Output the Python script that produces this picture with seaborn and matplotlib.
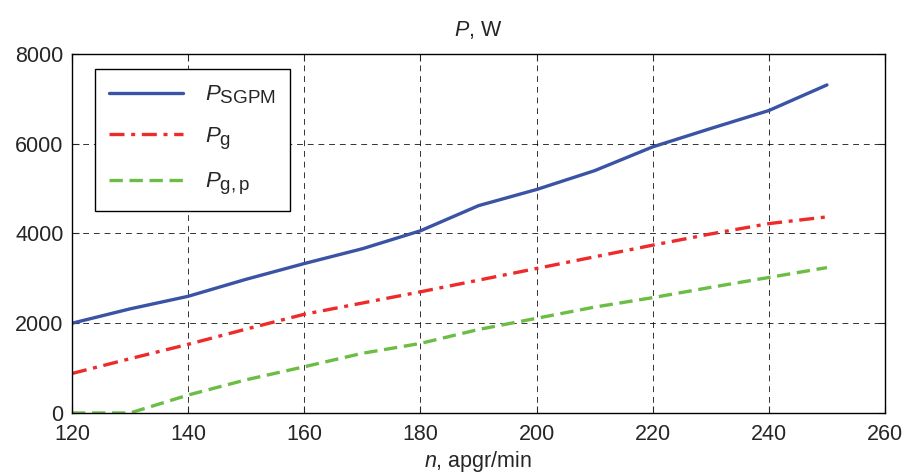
import matplotlib
matplotlib.use("Agg")
import matplotlib.pyplot as plt
import matplotlib._mathtext as _mt
import seaborn as sns
import pandas as pd

n_vals = [120, 130, 140, 150, 160, 170, 180, 190, 200, 210, 220, 230, 240, 250]
p_sgpm = [2000, 2320, 2600, 2980, 3330, 3660, 4060, 4620, 4980, 5400, 5930, 6340, 6740, 7310]
p_g    = [880, 1210, 1530, 1870, 2200, 2450, 2700, 2960, 3220, 3480, 3740, 3990, 4220, 4370]
p_gp   = [0, 0, 400, 740, 1030, 1330, 1550, 1860, 2110, 2360, 2570, 2800, 3020, 3240]
labels = [r"$P_{\mathrm{SGPM}}$", r"$P_{\mathrm{g}}$", r"$P_{\mathrm{g,p}}$"]
colors = ["#3a53a4", "#ee2a2a", "#6cbd45"]

# larger subscripts, as in the reference
_mt.SHRINK_FACTOR = 0.85

sns.set_style("ticks")
plt.rcParams["font.family"] = ["Liberation Sans", "DejaVu Sans"]
plt.rcParams["mathtext.fontset"] = "custom"
plt.rcParams["mathtext.rm"] = "Liberation Sans"
plt.rcParams["mathtext.it"] = "Liberation Sans:italic"
plt.rcParams["xtick.direction"] = "in"
plt.rcParams["ytick.direction"] = "in"

fig = plt.figure(figsize=(9.08, 4.76), dpi=100)
ax = fig.add_axes([0.0793, 0.1324, 0.8954, 0.7542])

df = pd.DataFrame({"n": n_vals * 3,
                   "P": p_sgpm + p_g + p_gp,
                   "series": [labels[0]] * len(n_vals) + [labels[1]] * len(n_vals) + [labels[2]] * len(n_vals)})

styles = ["-", (0, (4.5, 2, 1.2, 2)), (0, (4, 2))]
for lab, col, ls in zip(labels, colors, styles):
    sub = df[df["series"] == lab]
    sns.lineplot(data=sub, x="n", y="P", ax=ax, color=col, linewidth=2.4,
                 linestyle=ls, label=lab)

ax.set_xlim(120, 260)
ax.set_ylim(0, 8000)
ax.set_xticks(range(120, 261, 20))
ax.set_yticks(range(0, 8001, 2000))
ax.tick_params(labelsize=15.5, top=True, right=True, length=5, width=0.8)
ax.tick_params(axis="y", pad=6)
ax.tick_params(axis="x", pad=8)
ax.grid(True, color="black", linestyle=(0, (6, 5)), linewidth=0.7, alpha=0.8)
for s in ax.spines.values():
    s.set_color("black")
    s.set_linewidth(1.0)

ax.set_xlabel(r"$n$, apgr/min", fontsize=15.5, labelpad=3)
ax.set_ylabel("")
ax.set_title(r"$P$, W", fontsize=15.5, pad=13)

leg = ax.legend(loc="upper left", bbox_to_anchor=(0.028, 0.957), fontsize=16,
                frameon=True, fancybox=False, edgecolor="black", framealpha=1,
                handlelength=3.3, handletextpad=1.0, labelspacing=0.85,
                borderpad=0.65, borderaxespad=0)
leg.get_frame().set_linewidth(1.0)

fig.savefig("out.png", dpi=100)
